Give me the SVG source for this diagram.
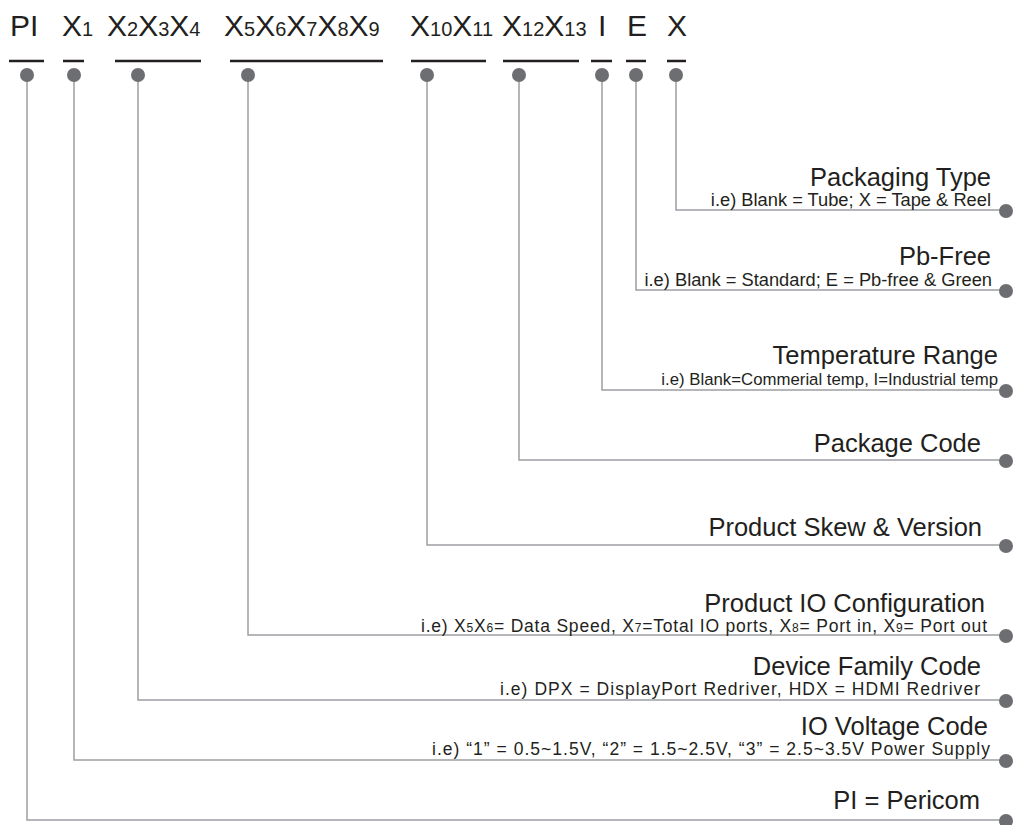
<svg xmlns="http://www.w3.org/2000/svg" width="1013" height="825" viewBox="0 0 1013 825">
<style>
.code{font-family:"Liberation Sans",Arial,sans-serif;font-size:30px;fill:#231f20}
.s{font-size:20px}
.bar{stroke:#231f20;stroke-width:2.5}
.conn{fill:none;stroke:#9d9fa2;stroke-width:1.5}
.dot{fill:#6d6e71}
.t{font-family:"Liberation Sans",Arial,sans-serif;font-size:25.5px;fill:#231f20;text-anchor:end}
.st{font-family:"Liberation Sans",Arial,sans-serif;font-size:18.3px;fill:#231f20;text-anchor:end}
.ss{font-size:12px}
</style>
<rect width="1013" height="825" fill="#fff"/>
<g id="code">
<text class="code" x="10" y="36">PI</text>
<text class="code" x="62" y="36">X<tspan class="s">1</tspan></text>
<text class="code" x="107" y="36">X<tspan class="s">2</tspan>X<tspan class="s">3</tspan>X<tspan class="s">4</tspan></text>
<text class="code" x="224" y="36">X<tspan class="s">5</tspan>X<tspan class="s">6</tspan>X<tspan class="s">7</tspan>X<tspan class="s">8</tspan>X<tspan class="s">9</tspan></text>
<text class="code" x="410" y="36">X<tspan class="s">10</tspan>X<tspan class="s">11</tspan></text>
<text class="code" x="502" y="36">X<tspan class="s">12</tspan>X<tspan class="s">13</tspan></text>
<text class="code" x="598" y="36">I</text>
<text class="code" x="627" y="36">E</text>
<text class="code" x="667" y="36">X</text>
</g>
<g id="bars">
<line class="bar" x1="9" y1="61" x2="44" y2="61"/>
<line class="bar" x1="63" y1="61" x2="84" y2="61"/>
<line class="bar" x1="115" y1="61" x2="201" y2="61"/>
<line class="bar" x1="230" y1="61" x2="383" y2="61"/>
<line class="bar" x1="411" y1="61" x2="486" y2="61"/>
<line class="bar" x1="503" y1="61" x2="579" y2="61"/>
<line class="bar" x1="591" y1="61" x2="612" y2="61"/>
<line class="bar" x1="626" y1="61" x2="646" y2="61"/>
<line class="bar" x1="667" y1="61" x2="686" y2="61"/>
</g>
<g id="connectors">
<polyline class="conn" points="27,75 27,820 1006,820"/>
<polyline class="conn" points="74,75 74,760 1006,760"/>
<polyline class="conn" points="138,75 138,700 1006,700"/>
<polyline class="conn" points="248,75 248,635 1006,635"/>
<polyline class="conn" points="427,75 427,545 1006,545"/>
<polyline class="conn" points="519,75 519,460 1006,460"/>
<polyline class="conn" points="602,75 602,390 1006,390"/>
<polyline class="conn" points="636,75 636,290 1006,290"/>
<polyline class="conn" points="676,75 676,210 1006,210"/>
</g>
<g id="top-dots">
<circle class="dot" cx="27" cy="75" r="7"/>
<circle class="dot" cx="74" cy="75" r="7"/>
<circle class="dot" cx="138" cy="75" r="7"/>
<circle class="dot" cx="248" cy="75" r="7"/>
<circle class="dot" cx="427" cy="75" r="7"/>
<circle class="dot" cx="519" cy="75" r="7"/>
<circle class="dot" cx="602" cy="75" r="7"/>
<circle class="dot" cx="636" cy="75" r="7"/>
<circle class="dot" cx="676" cy="75" r="7"/>
</g>
<g id="packaging-type">
<text class="t" x="991" y="186">Packaging Type</text>
<text class="st" x="991" y="206">i.e) Blank = Tube; X = Tape &amp; Reel</text>
<circle class="dot" cx="1006" cy="211" r="7"/>
</g>
<g id="pb-free">
<text class="t" x="991" y="265">Pb-Free</text>
<text class="st" x="992" y="286">i.e) Blank = Standard; E = Pb-free &amp; Green</text>
<circle class="dot" cx="1006" cy="291" r="7"/>
</g>
<g id="temperature-range">
<text class="t" x="998" y="364">Temperature Range</text>
<text class="st" x="998" y="385" style="font-size:16.8px">i.e) Blank=Commerial temp, I=Industrial temp</text>
<circle class="dot" cx="1006" cy="391" r="7"/>
</g>
<g id="package-code">
<text class="t" x="981" y="452">Package Code</text>
<circle class="dot" cx="1006" cy="461" r="7"/>
</g>
<g id="product-skew">
<text class="t" x="982" y="536">Product Skew &amp; Version</text>
<circle class="dot" cx="1006" cy="546" r="7"/>
</g>
<g id="product-io">
<text class="t" x="985" y="612">Product IO Configuration</text>
<text class="st" x="987" y="632" style="font-size:17.5px" textLength="566" lengthAdjust="spacing">i.e) X<tspan class="ss">5</tspan>X<tspan class="ss">6</tspan>= Data Speed, X<tspan class="ss">7</tspan>=Total IO ports, X<tspan class="ss">8</tspan>= Port in, X<tspan class="ss">9</tspan>= Port out</text>
<circle class="dot" cx="1006" cy="636" r="7"/>
</g>
<g id="device-family">
<text class="t" x="981" y="675">Device Family Code</text>
<text class="st" x="980" y="695" style="font-size:17.5px" textLength="480" lengthAdjust="spacing">i.e) DPX = DisplayPort Redriver, HDX = HDMI Redriver</text>
<circle class="dot" cx="1006" cy="701" r="7"/>
</g>
<g id="io-voltage">
<text class="t" x="988" y="735">IO Voltage Code</text>
<text class="st" x="990" y="755" style="font-size:17.5px" textLength="558" lengthAdjust="spacing">i.e) “1” = 0.5~1.5V, “2” = 1.5~2.5V, “3” = 2.5~3.5V Power Supply</text>
<circle class="dot" cx="1006" cy="761" r="7"/>
</g>
<g id="pericom">
<text class="t" x="980" y="809">PI = Pericom</text>
<circle class="dot" cx="1006" cy="821" r="7"/>
</g>
</svg>
